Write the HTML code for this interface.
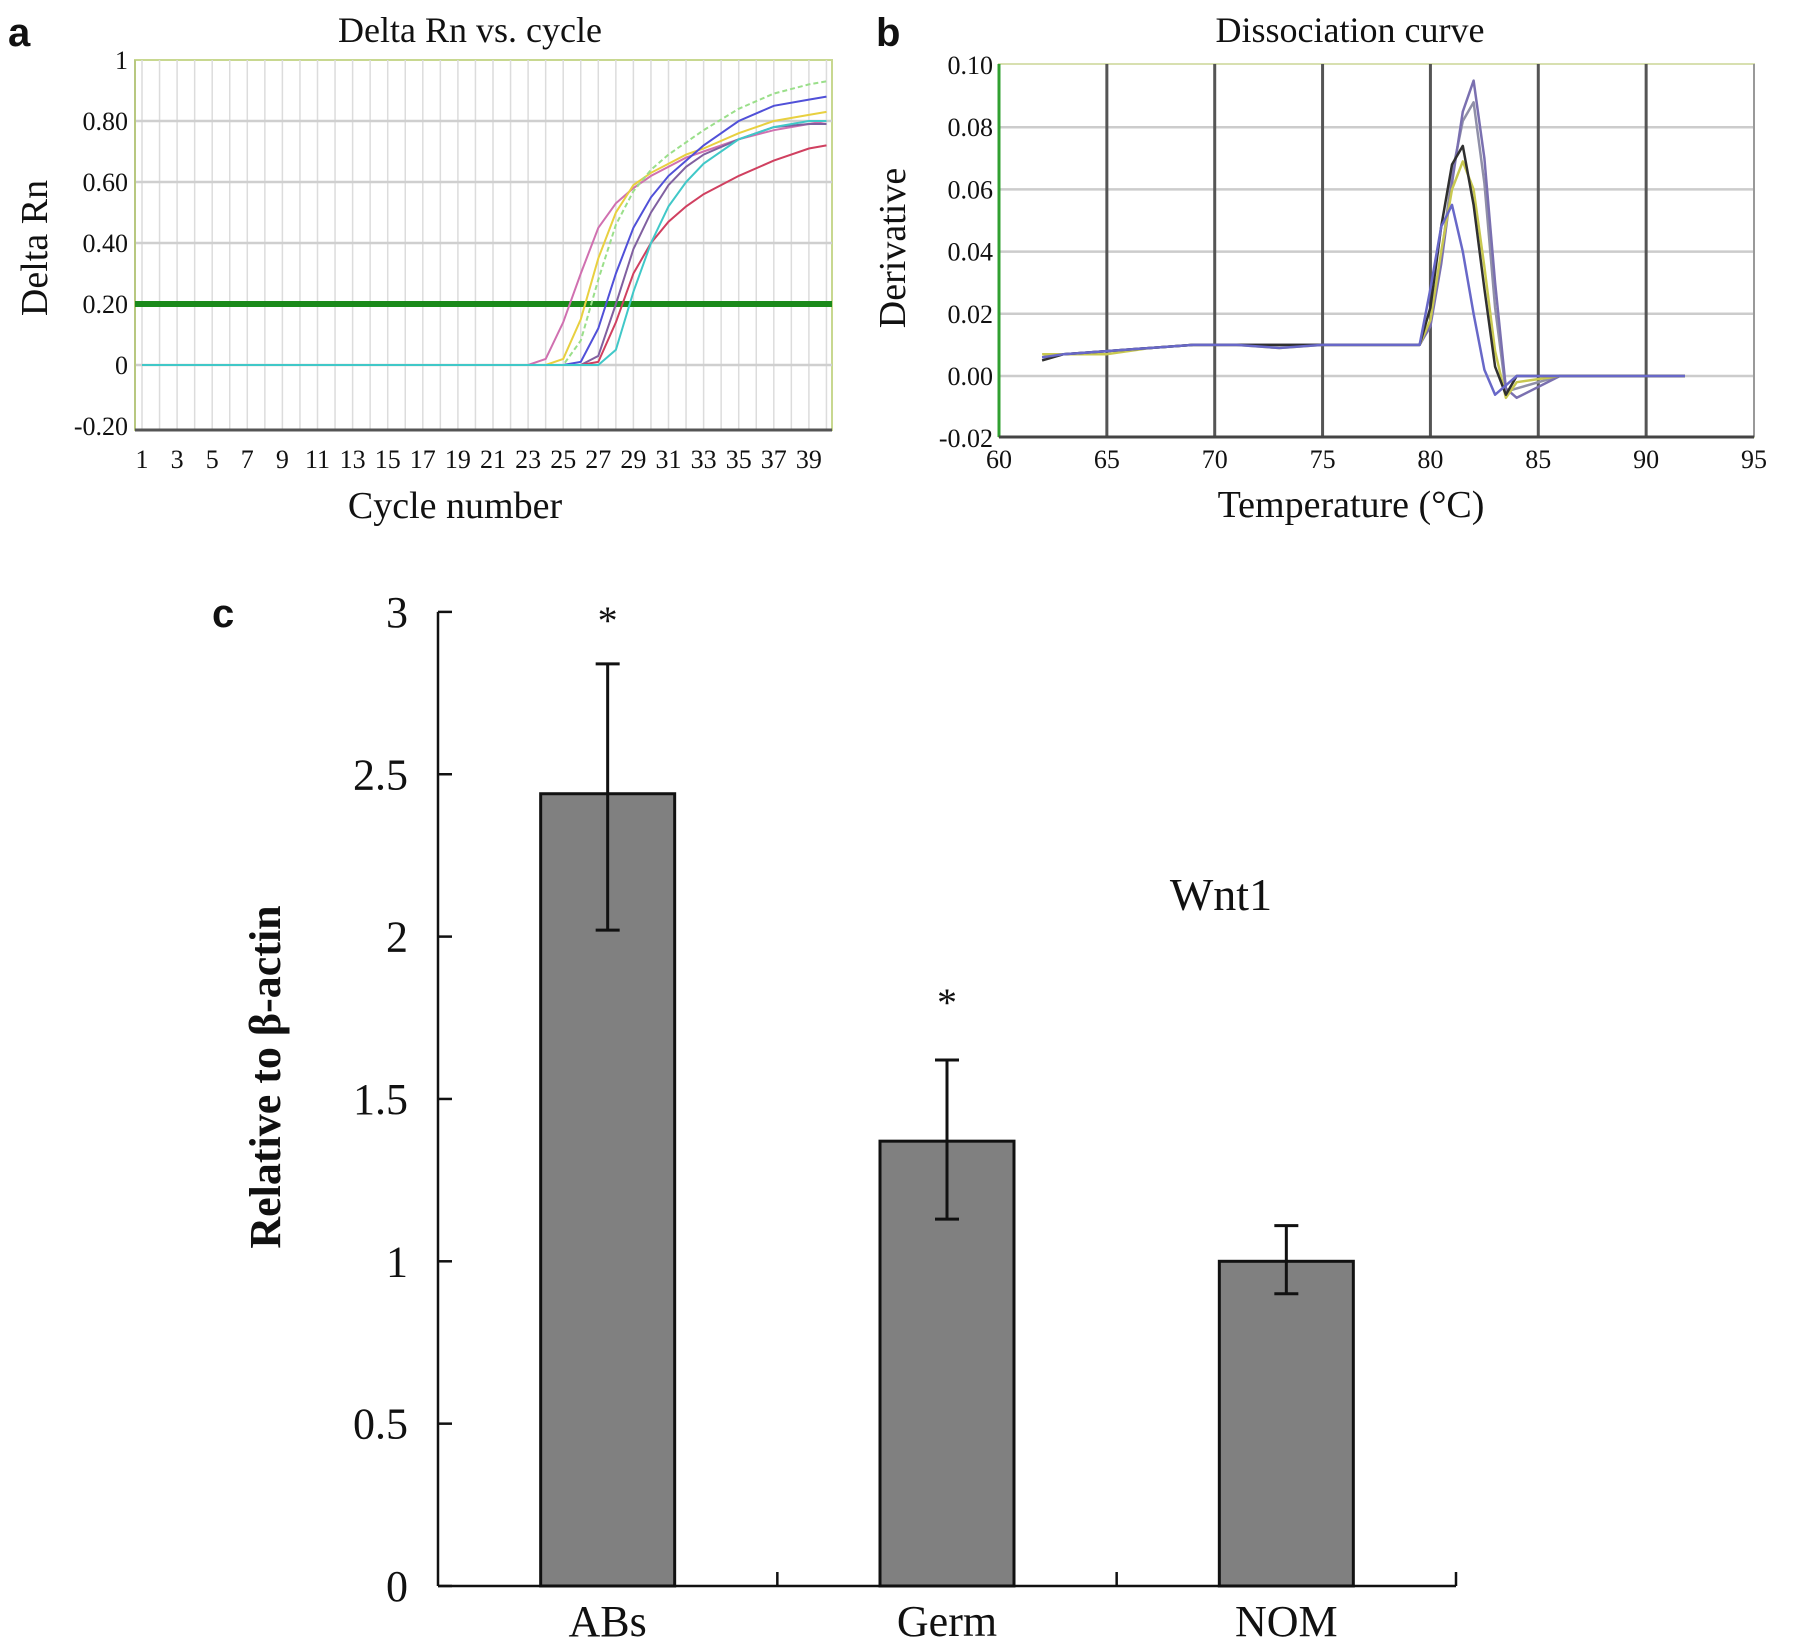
<!DOCTYPE html>
<html><head><meta charset="utf-8"><style>
html,body{margin:0;padding:0;background:#fff;}
svg{display:block;}
text{font-family:"Liberation Serif",serif;fill:#111;}
.sans{font-family:"Liberation Sans",sans-serif;font-weight:bold;}
</style></head><body>
<svg id="fig" width="1795" height="1648" viewBox="0 0 1795 1648" xmlns="http://www.w3.org/2000/svg">
<g id="pa"></g>
<g id="pb"></g>
<g id="pc"></g>
</svg>
<script>
// ---------- Panel a data ----------
const aCycles = [1, 23, 24, 25, 26, 27, 28, 29, 30, 31, 32, 33, 35, 37, 39, 40];
const aPink   = [0, 0, 0.02, 0.14, 0.30, 0.45, 0.53, 0.58, 0.62, 0.65, 0.68, 0.70, 0.74, 0.77, 0.79, 0.80];
const aYellow = [0, 0, 0, 0.02, 0.15, 0.35, 0.50, 0.59, 0.63, 0.66, 0.69, 0.71, 0.76, 0.80, 0.82, 0.83];
const aGreen  = [0, 0, 0, 0, 0.08, 0.28, 0.46, 0.57, 0.64, 0.69, 0.73, 0.77, 0.84, 0.89, 0.92, 0.93];
const aBlue   = [0, 0, 0, 0, 0.01, 0.12, 0.30, 0.45, 0.55, 0.62, 0.67, 0.72, 0.80, 0.85, 0.87, 0.88];
const aPurple = [0, 0, 0, 0, 0, 0.03, 0.20, 0.38, 0.50, 0.59, 0.65, 0.69, 0.74, 0.78, 0.79, 0.79];
const aRed    = [0, 0, 0, 0, 0, 0.01, 0.14, 0.30, 0.40, 0.47, 0.52, 0.56, 0.62, 0.67, 0.71, 0.72];
const aCyan   = [0, 0, 0, 0, 0, 0, 0.05, 0.24, 0.40, 0.52, 0.60, 0.66, 0.74, 0.78, 0.80, 0.80];
const aColors = ['#d070b0', '#e8d040', '#9adf8a', '#5050d8', '#8060a0', '#d04060', '#40c8c8'];
const aYTicks = [-0.2, 0, 0.2, 0.4, 0.6, 0.8, 1];
const aYTickLabels = ['-0.20', '0', '0.20', '0.40', '0.60', '0.80', '1'];
const aXTicks = [1,3,5,7,9,11,13,15,17,19,21,23,25,27,29,31,33,35,37,39];
const aThreshold = 0.2;

// ---------- Panel b data ----------
const bTemps  = [62, 63, 65, 67, 69, 71, 73, 75, 77, 79.5, 80, 80.5, 81, 81.5, 82, 82.5, 83, 83.5, 84, 86, 89, 91.8];
const bBlue   = [0.006, 0.007, 0.008, 0.009, 0.010, 0.010, 0.009, 0.010, 0.010, 0.010, 0.028, 0.048, 0.055, 0.040, 0.020, 0.002, -0.006, -0.003, 0, 0, 0, 0];
const bBlack  = [0.005, 0.007, 0.008, 0.009, 0.010, 0.010, 0.010, 0.010, 0.010, 0.010, 0.022, 0.048, 0.068, 0.074, 0.055, 0.028, 0.003, -0.006, 0, 0, 0, 0];
const bYellow = [0.007, 0.007, 0.007, 0.009, 0.010, 0.010, 0.009, 0.010, 0.010, 0.010, 0.018, 0.040, 0.060, 0.069, 0.060, 0.035, 0.008, -0.007, -0.002, 0, 0, 0];
const bPurple = [0.006, 0.007, 0.008, 0.009, 0.010, 0.010, 0.010, 0.010, 0.010, 0.010, 0.016, 0.036, 0.062, 0.085, 0.095, 0.070, 0.030, -0.004, -0.007, 0, 0, 0];
const bGrey   = [0.006, 0.007, 0.008, 0.009, 0.010, 0.010, 0.010, 0.010, 0.010, 0.010, 0.017, 0.038, 0.065, 0.082, 0.088, 0.062, 0.022, -0.005, -0.004, 0, 0, 0];
const bColors = ['#6868c8', '#303030', '#c8c850', '#7a70b0', '#9090a8'];
const bYTicks = [-0.02, 0, 0.02, 0.04, 0.06, 0.08, 0.10];
const bYTickLabels = ['-0.02', '0.00', '0.02', '0.04', '0.06', '0.08', '0.10'];
const bXTicks = [60, 65, 70, 75, 80, 85, 90, 95];

// ---------- Panel c data ----------
const cCategories = ['ABs', 'Germ', 'NOM'];
const cValues = [2.44, 1.37, 1.00];
const cErrUpper = [2.84, 1.62, 1.11];
const cErrLower = [2.02, 1.13, 0.90];
const cSignificant = [true, true, false];
const cYTicks = [0, 0.5, 1, 1.5, 2, 2.5, 3];
const cYTickLabels = ['0', '0.5', '1', '1.5', '2', '2.5', '3'];

const NS = 'http://www.w3.org/2000/svg';
function mk(parent, tag, attrs, txt) {
  const e = document.createElementNS(NS, tag);
  for (const k in attrs) e.setAttribute(k, attrs[k]);
  if (txt !== undefined) e.textContent = txt;
  parent.appendChild(e);
  return e;
}

// ===== Panel a =====
(function () {
  const g = document.getElementById('pa');
  const L = 135, R = 832, T = 60, B = 430;
  const x = c => 142 + (c - 1) * 17.55;
  const y = v => 365 - v * 305;
  let e = mk(g, 'text', {x: 8, y: 46, 'font-size': 40, class: 'sans'}, 'a');
   
  e = mk(g, 'text', {x: 470, y: 42, 'font-size': 36, 'text-anchor': 'middle'}, 'Delta Rn vs. cycle');
   
  mk(g, 'rect', {x: L, y: T, width: R - L, height: B - T, fill: '#fff', stroke: '#c8d890', 'stroke-width': 2});
  for (let c = 1; c <= 40; c++) {
    e = mk(g, 'line', {x1: x(c), x2: x(c), y1: T, y2: B, stroke: '#dcdcdc', 'stroke-width': 1.5});
     
  }
  aYTicks.forEach((v, i) => {
    if (v > -0.2 && v < 1) {
      e = mk(g, 'line', {x1: L, x2: R, y1: y(v), y2: y(v), stroke: '#cfcfcf', 'stroke-width': 2.5});
       
    }
    e = mk(g, 'text', {x: 128, y: y(v) + 9, 'font-size': 26, 'text-anchor': 'end'}, aYTickLabels[i]);
     
  });
  mk(g, 'line', {x1: L, x2: L, y1: T, y2: B, stroke: '#b8c880', 'stroke-width': 2});
  mk(g, 'line', {x1: L, x2: R, y1: B, y2: B, stroke: '#555', 'stroke-width': 3});
  aXTicks.forEach(c => {
    e = mk(g, 'text', {x: x(c), y: 468, 'font-size': 26, 'text-anchor': 'middle'}, String(c));
     
  });
  e = mk(g, 'text', {x: 455, y: 518, 'font-size': 38, 'text-anchor': 'middle'}, 'Cycle number');
   
  e = mk(g, 'text', {x: 0, y: 0, 'font-size': 38, 'text-anchor': 'middle', transform: 'translate(47,248) rotate(-90)'}, 'Delta Rn');
   
  e = mk(g, 'line', {x1: L, x2: R, y1: y(aThreshold), y2: y(aThreshold), stroke: '#1a8a1a', 'stroke-width': 6});
   
  const series = [aPink, aYellow, aGreen, aBlue, aPurple, aRed, aCyan];
  const names = ['pink', 'yellow', 'green', 'blue', 'purple', 'red', 'cyan'];
  series.forEach((s, i) => {
    const pts = s.map((v, j) => x(aCycles[j]).toFixed(1) + ',' + y(v).toFixed(1)).join(' ');
    e = mk(g, 'polyline', {points: pts, fill: 'none', stroke: aColors[i], 'stroke-width': 2, 'stroke-dasharray': i === 2 ? '5,3' : 'none'});
     
  });
})();

// ===== Panel b =====
(function () {
  const g = document.getElementById('pb');
  const L = 999, R = 1754, T = 64, B = 437;
  const x = t => L + (t - 60) * (R - L) / 35;
  const y = v => 376 - v * 3110;
  let e = mk(g, 'text', {x: 876, y: 46, 'font-size': 40, class: 'sans'}, 'b');
   
  e = mk(g, 'text', {x: 1350, y: 42, 'font-size': 36, 'text-anchor': 'middle'}, 'Dissociation curve');
   
  mk(g, 'rect', {x: L, y: T, width: R - L, height: B - T, fill: '#fff', stroke: '#d8e0b0', 'stroke-width': 2});
  bYTicks.forEach((v, i) => {
    if (v > -0.02 && v < 0.1) {
      e = mk(g, 'line', {x1: L, x2: R, y1: y(v), y2: y(v), stroke: '#cccccc', 'stroke-width': 2.5});
       
    }
    e = mk(g, 'text', {x: 993, y: y(v) + 9, 'font-size': 26, 'text-anchor': 'end'}, bYTickLabels[i]);
     
  });
  bXTicks.forEach(t => {
    if (t > 60) {
      e = mk(g, 'line', {x1: x(t), x2: x(t), y1: T, y2: B, stroke: t === 95 ? '#999' : '#555', 'stroke-width': t === 95 ? 2 : 3});
       
    }
    e = mk(g, 'text', {x: x(t), y: 468, 'font-size': 26, 'text-anchor': 'middle'}, String(t));
     
  });
  mk(g, 'line', {x1: L, x2: L, y1: T, y2: B, stroke: '#30a030', 'stroke-width': 3});
  mk(g, 'line', {x1: L, x2: R, y1: B, y2: B, stroke: '#444', 'stroke-width': 3});
  e = mk(g, 'text', {x: 1351, y: 517, 'font-size': 38, 'text-anchor': 'middle'}, 'Temperature (\u00B0C)');
   
  e = mk(g, 'text', {x: 0, y: 0, 'font-size': 38, 'text-anchor': 'middle', transform: 'translate(905,248) rotate(-90)'}, 'Derivative');
   
  const series = [bGrey, bPurple, bYellow, bBlack, bBlue];
  const cols = [bColors[4], bColors[3], bColors[2], bColors[1], bColors[0]];
  const names = ['grey', 'purple', 'yellow', 'black', 'blue'];
  series.forEach((s, i) => {
    const pts = s.map((v, j) => x(bTemps[j]).toFixed(1) + ',' + y(v).toFixed(1)).join(' ');
    e = mk(g, 'polyline', {points: pts, fill: 'none', stroke: cols[i], 'stroke-width': 2.5, 'stroke-linejoin': 'round'});
     
  });
})();

// ===== Panel c =====
(function () {
  const g = document.getElementById('pc');
  const L = 438, R = 1456, B = 1586;
  const y = v => B - v * 324.7;
  const band = (R - L) / 3;
  const cx = i => L + band * (i + 0.5);
  const bw = 134;
  let e = mk(g, 'text', {x: 212, y: 627, 'font-size': 40, class: 'sans'}, 'c');
   
  mk(g, 'line', {x1: L, x2: L, y1: y(3), y2: B, stroke: '#111', 'stroke-width': 2.5});
  mk(g, 'line', {x1: L, x2: R, y1: B, y2: B, stroke: '#111', 'stroke-width': 2.5});
  cYTicks.forEach((v, i) => {
    mk(g, 'line', {x1: L, x2: L + 14, y1: y(v), y2: y(v), stroke: '#111', 'stroke-width': 2.5});
    e = mk(g, 'text', {x: 408, y: y(v) + 15, 'font-size': 44, 'text-anchor': 'end'}, cYTickLabels[i]);
     
  });
  for (let i = 1; i <= 3; i++) {
    mk(g, 'line', {x1: L + band * i, x2: L + band * i, y1: B, y2: B - 14, stroke: '#111', 'stroke-width': 2.5});
  }
  const starOffset = [30, 44, 30];
  cCategories.forEach((c, i) => {
    e = mk(g, 'rect', {x: cx(i) - bw / 2, y: y(cValues[i]), width: bw, height: B - y(cValues[i]), fill: '#808080', stroke: '#111', 'stroke-width': 3});
     
    e = mk(g, 'path', {d: 'M' + cx(i) + ',' + y(cErrUpper[i]) + 'V' + y(cErrLower[i]) +
      'M' + (cx(i) - 12) + ',' + y(cErrUpper[i]) + 'H' + (cx(i) + 12) +
      'M' + (cx(i) - 12) + ',' + y(cErrLower[i]) + 'H' + (cx(i) + 12), stroke: '#111', 'stroke-width': 3, fill: 'none'});
     
    if (cSignificant[i]) {
      e = mk(g, 'text', {x: cx(i), y: y(cErrUpper[i]) - starOffset[i], 'font-size': 40, 'text-anchor': 'middle'}, '*');
       
    }
    e = mk(g, 'text', {x: cx(i), y: 1636, 'font-size': 44, 'text-anchor': 'middle'}, c);
     
  });
  e = mk(g, 'text', {x: 1221, y: 910, 'font-size': 46, 'text-anchor': 'middle'}, 'Wnt1');
   
  e = mk(g, 'text', {x: 0, y: 0, 'font-size': 44, 'font-weight': 'bold', 'text-anchor': 'middle', transform: 'translate(280,1077) rotate(-90)'}, 'Relative to \u03B2-actin');
   
})();
</script>
</body></html>
